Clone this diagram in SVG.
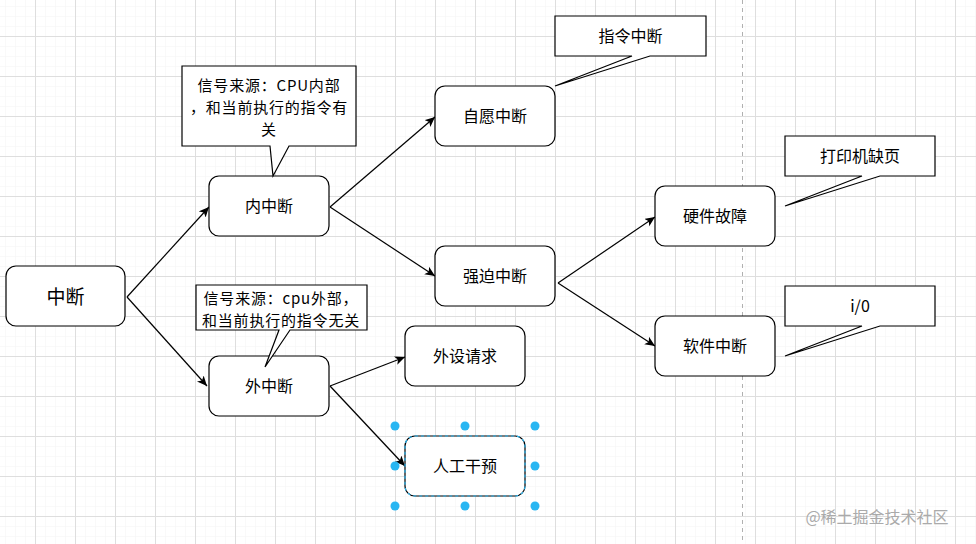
<svg xmlns="http://www.w3.org/2000/svg" width="976" height="544" viewBox="0 0 976 544">
<defs>
<pattern id="minor" width="10" height="10" patternUnits="userSpaceOnUse" x="5" y="6">
<path d="M0,0 H10 M0,0 V10" fill="none" stroke="#f3f3f3" stroke-width="1"/>
</pattern>
<pattern id="major" width="40" height="40" patternUnits="userSpaceOnUse" x="35" y="36">
<path d="M0,0.5 H40 M0.5,0 V40" fill="none" stroke="#dedede" stroke-width="1"/>
</pattern>
<marker id="arr" markerWidth="12" markerHeight="10" refX="10" refY="4.5" orient="auto" markerUnits="userSpaceOnUse">
<path d="M0,0 L10,4.5 L0,9 L2.5,4.5 Z" fill="#000"/>
</marker>
</defs>
<style>
.node rect{fill:#fff;stroke:#000;stroke-width:1.2}
.call path{fill:#fff;stroke:#000;stroke-width:1.2;stroke-linejoin:miter}
text{font-family:"Noto Sans CJK SC","Liberation Sans",sans-serif;font-size:16px;fill:#000;text-anchor:middle;dominant-baseline:central}
.call text.m{font-size:15px;letter-spacing:0.8px}
.edges line{stroke:#000;stroke-width:1.2;marker-end:url(#arr)}
.h{fill:#29b6f2}
</style>
<rect width="976" height="544" fill="#fff"/>
<rect width="976" height="544" fill="url(#minor)"/>
<rect width="976" height="544" fill="url(#major)"/>
<line x1="742.5" y1="0" x2="742.5" y2="544" stroke="#b0b0b0" stroke-dasharray="4,4"/>

<g id="edges" class="edges">
<line x1="127" y1="297" x2="209" y2="207"/>
<line x1="127" y1="297" x2="207" y2="386"/>
<line x1="330" y1="207" x2="435" y2="117"/>
<line x1="330" y1="207" x2="435" y2="276"/>
<line x1="330" y1="386" x2="405" y2="357"/>
<line x1="330" y1="386" x2="405" y2="466"/>
<line x1="558" y1="283" x2="655" y2="217"/>
<line x1="558" y1="283" x2="655" y2="346"/>
</g>

<g id="n-zhongduan" class="node"><rect x="6" y="266" width="119" height="60" rx="10"/><text x="65.5" y="295" style="font-size:19px">中断</text></g>
<g id="n-nei" class="node"><rect x="209" y="176" width="120" height="60" rx="10"/><text x="269" y="205">内中断</text></g>
<g id="n-wai" class="node"><rect x="209" y="356" width="120" height="60" rx="10"/><text x="269" y="385">外中断</text></g>
<g id="n-ziyuan" class="node"><rect x="435" y="86" width="120" height="60" rx="10"/><text x="495" y="115">自愿中断</text></g>
<g id="n-qiangpo" class="node"><rect x="435" y="246" width="120" height="60" rx="10"/><text x="495" y="275">强迫中断</text></g>
<g id="n-waishe" class="node"><rect x="405" y="326" width="120" height="60" rx="10"/><text x="465" y="355">外设请求</text></g>
<g id="n-rengong" class="node"><rect x="405" y="436" width="120" height="60" rx="10"/><rect x="405" y="436" width="120" height="60" rx="10" style="fill:none;stroke:#29b6f2;stroke-dasharray:3,3"/><text x="465" y="465">人工干预</text></g>
<g id="n-yingjian" class="node"><rect x="655" y="186" width="120" height="60" rx="10"/><text x="715" y="215">硬件故障</text></g>
<g id="n-ruanjian" class="node"><rect x="655" y="316" width="120" height="60" rx="10"/><text x="715" y="345">软件中断</text></g>

<g id="c-nei" class="call"><path d="M182,66 H356 V146 H289 L273,176 L270,146 H182 Z"/>
<text class="m" x="269" y="84">信号来源：CPU内部</text><text class="m" x="269" y="106">，和当前执行的指令有</text><text class="m" x="269" y="128">关</text></g>
<g id="c-wai" class="call"><path d="M196,285 H367 V330 H290 L265,367 L279,330 H196 Z"/>
<text class="m" x="281" y="297">信号来源：cpu外部，</text><text class="m" x="281" y="319">和当前执行的指令无关</text></g>
<g id="c-zhiling" class="call"><path d="M555,16 H706 V56 H650 L555,86 L632,56 H555 Z"/><text x="630.5" y="35">指令中断</text></g>
<g id="c-dayin" class="call"><path d="M785,136 H935 V176 H880 L785,206 L862,176 H785 Z"/><text x="860" y="155">打印机缺页</text></g>
<g id="c-io" class="call"><path d="M785,286 H935 V326 H880 L785,356 L862,326 H785 Z"/><text x="860" y="305">i/0</text></g>

<g id="handles">
<circle class="h" cx="395" cy="426" r="4.5"/><circle class="h" cx="465" cy="426" r="4.5"/><circle class="h" cx="535" cy="426" r="4.5"/>
<circle class="h" cx="395" cy="466" r="4.5"/><circle class="h" cx="535" cy="466" r="4.5"/>
<circle class="h" cx="395" cy="506" r="4.5"/><circle class="h" cx="465" cy="506" r="4.5"/><circle class="h" cx="535" cy="506" r="4.5"/>
</g>
<text x="877" y="516" style="font-size:16px;fill:#aaa">@稀土掘金技术社区</text>
</svg>
